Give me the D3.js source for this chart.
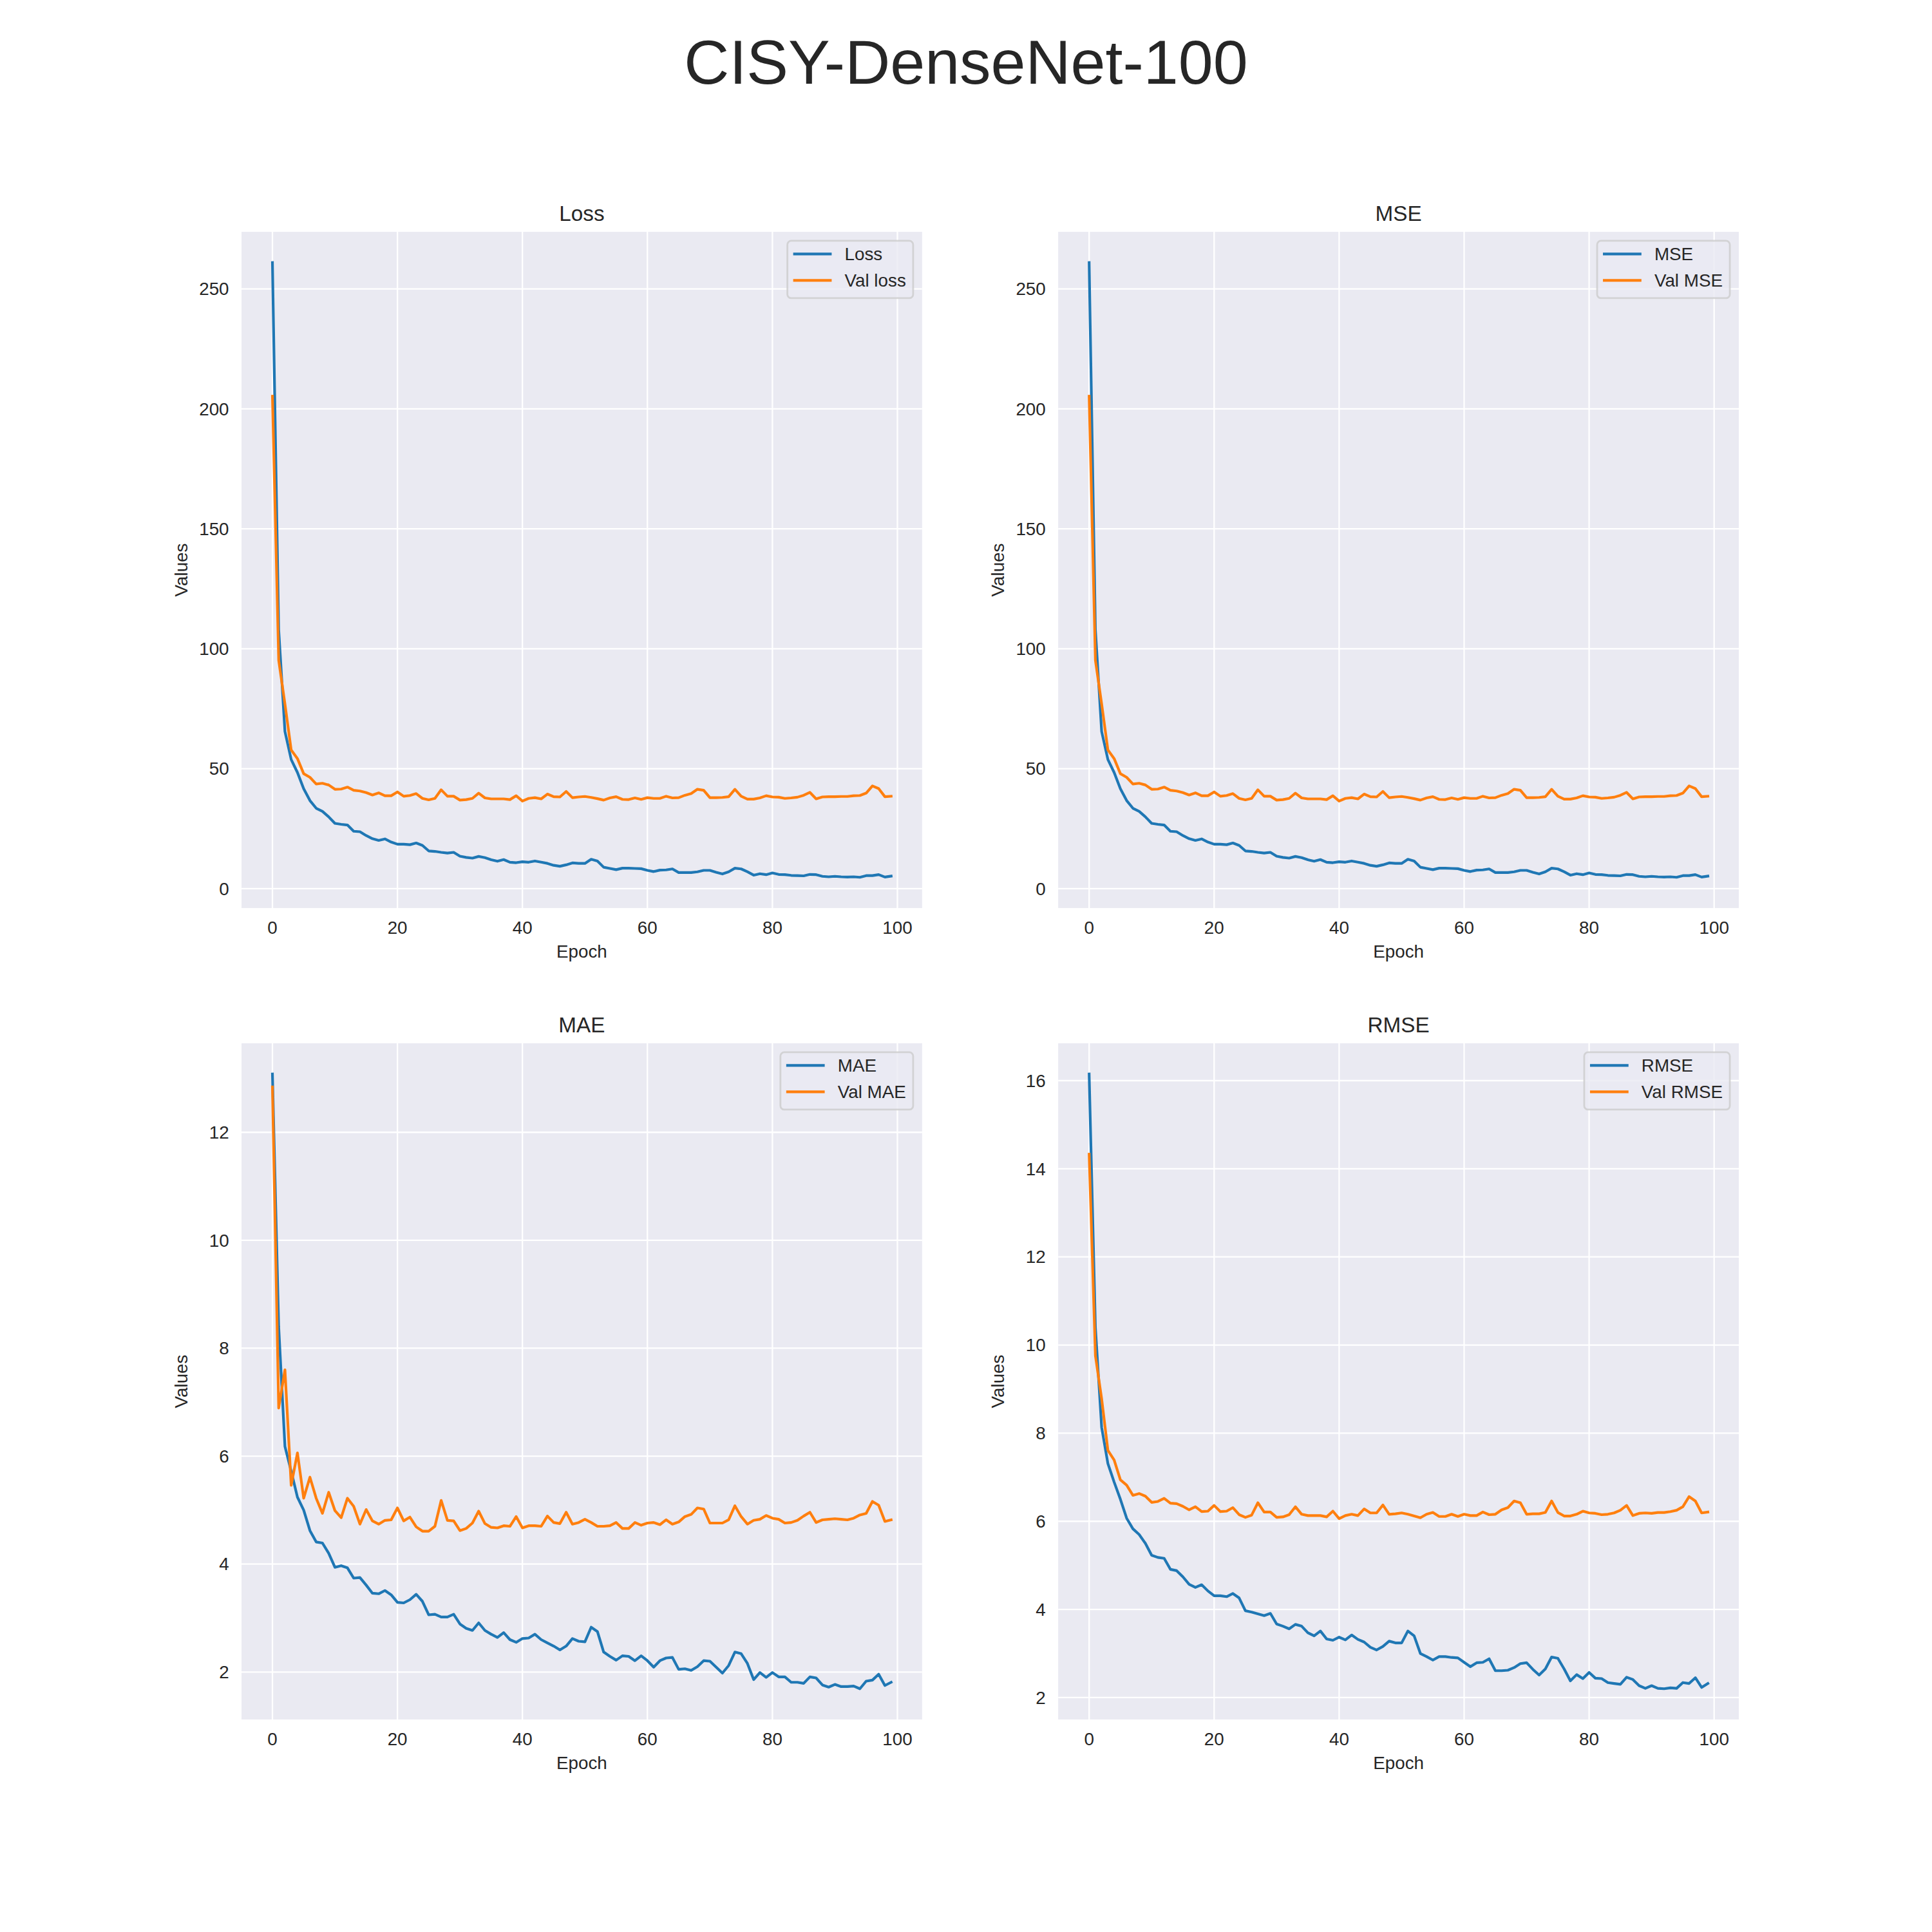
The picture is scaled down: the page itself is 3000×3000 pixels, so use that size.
<!DOCTYPE html>
<html>
<head>
<meta charset="utf-8">
<title>CISY-DenseNet-100</title>
<script src="https://cdn.jsdelivr.net/npm/d3@7"></script>
<style>
  body { margin: 0; background: #fff; }
  svg { display: block; }
</style>
</head>
<body>
<script>
(function () {

  // ---- data (epochs 0..99) ----
  var epochTicks = [0, 20, 40, 60, 80, 100];
  var lossTicks = [0, 50, 100, 150, 200, 250];
  var maeTicks = [2, 4, 6, 8, 10, 12];
  var rmseTicks = [2, 4, 6, 8, 10, 12, 14, 16];

  var loss = [
    261, 108, 65.5, 53.8, 48.4, 41.6, 36.7, 33.5, 32.2, 29.9,
    27.2, 26.8, 26.5, 23.9, 23.7, 22.1, 20.8, 20.1, 20.7, 19.4,
    18.5, 18.5, 18.3, 19.0, 18.0, 15.7, 15.5, 15.1, 14.8, 15.1,
    13.5, 13.0, 12.7, 13.4, 12.9, 12.0, 11.4, 12.1, 11.0, 10.8,
    11.2, 11.0, 11.5, 11.0, 10.5, 9.7, 9.3, 9.9, 10.7, 10.5,
    10.5, 12.2, 11.5, 8.9, 8.4, 7.9, 8.5, 8.5, 8.4, 8.3,
    7.6, 7.1, 7.7, 7.8, 8.2, 6.7, 6.7, 6.7, 7.0, 7.6,
    7.6, 6.8, 6.1, 7.0, 8.5, 8.2, 7.0, 5.6, 6.2, 5.8,
    6.5, 5.9, 5.8, 5.5, 5.4, 5.3, 5.9, 5.8, 5.1, 4.9,
    5.1, 4.9, 4.8, 4.9, 4.7, 5.4, 5.4, 5.8, 4.8, 5.2
  ];
  var valLoss = [
    205.3, 95.2, 77.0, 57.8, 54.2, 47.9, 46.4, 43.6, 43.9, 43.2,
    41.4, 41.5, 42.3, 41.0, 40.7, 40.0, 39.0, 39.9, 38.7, 38.7,
    40.3, 38.5, 38.8, 39.6, 37.6, 37.0, 37.6, 41.2, 38.5, 38.5,
    36.9, 37.1, 37.6, 39.8, 37.8, 37.4, 37.4, 37.4, 37.1, 38.7,
    36.5, 37.6, 37.9, 37.4, 39.4, 38.3, 38.2, 40.5, 37.9, 38.2,
    38.4, 38.0, 37.5, 36.9, 37.8, 38.3, 37.2, 37.1, 37.8, 37.2,
    37.9, 37.6, 37.6, 38.5, 37.8, 37.9, 38.9, 39.6, 41.4, 41.0,
    37.9, 37.9, 38.0, 38.3, 41.4, 38.5, 37.3, 37.3, 37.8, 38.7,
    38.2, 38.1, 37.6, 37.8, 38.1, 38.9, 40.1, 37.4, 38.2, 38.3,
    38.3, 38.4, 38.4, 38.7, 38.8, 39.8, 42.8, 41.7, 38.3, 38.5
  ];
  // the MSE panel shows the very same curves as the Loss panel
  var mse = loss;
  var valMse = valLoss;

  var mae = [
    13.08, 8.4, 6.18, 5.72, 5.24, 5.00, 4.62, 4.41, 4.39, 4.20,
    3.94, 3.97, 3.93, 3.74, 3.75, 3.61, 3.46, 3.45, 3.51, 3.43,
    3.29, 3.28, 3.34, 3.44, 3.31, 3.06, 3.07, 3.02, 3.02, 3.07,
    2.89, 2.81, 2.77, 2.91, 2.77, 2.70, 2.64, 2.73, 2.60, 2.55,
    2.62, 2.63, 2.70, 2.60, 2.54, 2.48, 2.41, 2.48, 2.62, 2.57,
    2.56, 2.83, 2.75, 2.37, 2.29, 2.22, 2.30, 2.29, 2.21, 2.30,
    2.21, 2.09, 2.21, 2.26, 2.27, 2.05, 2.06, 2.03, 2.10, 2.21,
    2.20, 2.09, 1.98, 2.12, 2.37, 2.34, 2.16, 1.86, 1.99, 1.90,
    1.99, 1.91, 1.91, 1.81, 1.81, 1.79, 1.91, 1.89, 1.76, 1.72,
    1.77, 1.73, 1.73, 1.74, 1.69, 1.83, 1.85, 1.96, 1.75, 1.81
  ];
  var valMae = [
    12.84, 6.89, 7.60, 5.46, 6.06, 5.22, 5.61, 5.22, 4.94, 5.33,
    4.99, 4.86, 5.22, 5.07, 4.74, 5.01, 4.80, 4.74, 4.81, 4.82,
    5.04, 4.80, 4.87, 4.69, 4.61, 4.61, 4.70, 5.18, 4.81, 4.80,
    4.62, 4.66, 4.76, 4.98, 4.75, 4.68, 4.67, 4.71, 4.70, 4.88,
    4.67, 4.71, 4.71, 4.70, 4.89, 4.77, 4.75, 4.96, 4.74, 4.77,
    4.83, 4.77, 4.70, 4.70, 4.71, 4.77, 4.66, 4.66, 4.77, 4.72,
    4.76, 4.77, 4.73, 4.82, 4.74, 4.78, 4.88, 4.92, 5.04, 5.02,
    4.76, 4.76, 4.76, 4.82, 5.08, 4.88, 4.74, 4.81, 4.83, 4.90,
    4.85, 4.83, 4.76, 4.77, 4.81, 4.89, 4.96, 4.77, 4.82, 4.83,
    4.84, 4.83, 4.82, 4.85, 4.91, 4.94, 5.16, 5.09, 4.79, 4.82
  ];

  var rmse = [
    16.15, 10.4, 8.13, 7.31, 6.89, 6.50, 6.07, 5.83, 5.70, 5.50,
    5.23, 5.18, 5.16, 4.91, 4.88, 4.74, 4.57, 4.50, 4.56, 4.42,
    4.31, 4.31, 4.29, 4.36, 4.26, 3.97, 3.94, 3.90, 3.86, 3.91,
    3.67, 3.62, 3.56, 3.66, 3.62, 3.47, 3.40, 3.51, 3.33, 3.30,
    3.37, 3.31, 3.42, 3.32, 3.26, 3.14, 3.08, 3.16, 3.28, 3.24,
    3.24, 3.51, 3.40, 3.00, 2.93, 2.85, 2.93, 2.93, 2.91, 2.90,
    2.80, 2.70, 2.79, 2.80, 2.88, 2.61, 2.61, 2.62, 2.68, 2.77,
    2.79, 2.64, 2.51, 2.65, 2.92, 2.89, 2.65, 2.38, 2.52, 2.43,
    2.57, 2.44, 2.43, 2.34, 2.32, 2.30, 2.46, 2.41, 2.27, 2.21,
    2.27, 2.21, 2.20, 2.22, 2.21, 2.34, 2.32, 2.45, 2.23, 2.32
  ];
  var valRmse = [
    14.33, 9.76, 8.78, 7.61, 7.39, 6.94, 6.82, 6.59, 6.63, 6.57,
    6.43, 6.45, 6.52, 6.41, 6.40, 6.34, 6.26, 6.33, 6.22, 6.23,
    6.36, 6.22, 6.23, 6.31, 6.15, 6.09, 6.14, 6.42, 6.21, 6.21,
    6.09, 6.10, 6.15, 6.33, 6.16, 6.13, 6.13, 6.13, 6.10, 6.23,
    6.06, 6.13, 6.16, 6.13, 6.28, 6.19, 6.19, 6.37, 6.16, 6.17,
    6.19, 6.16, 6.12, 6.08, 6.16, 6.20, 6.11, 6.11, 6.16, 6.11,
    6.16, 6.13, 6.13, 6.21, 6.15, 6.16, 6.26, 6.31, 6.46, 6.42,
    6.16, 6.17, 6.17, 6.20, 6.46, 6.20, 6.12, 6.12, 6.16, 6.23,
    6.19, 6.18, 6.15, 6.16, 6.19, 6.25, 6.36, 6.13, 6.18, 6.19,
    6.18, 6.20, 6.20, 6.22, 6.25, 6.33, 6.56, 6.46, 6.19, 6.21
  ];

  var panels = [
    { title: "Loss", train: loss, val: valLoss, names: ["Loss", "Val loss"], ticks: lossTicks },
    { title: "MSE", train: mse, val: valMse, names: ["MSE", "Val MSE"], ticks: lossTicks },
    { title: "MAE", train: mae, val: valMae, names: ["MAE", "Val MAE"], ticks: maeTicks },
    { title: "RMSE", train: rmse, val: valRmse, names: ["RMSE", "Val RMSE"], ticks: rmseTicks }
  ];

  // ---- look ----
  var W = 3000, H = 3000;
  var fig = { left: 375, right: 2700, top: 360, bottom: 2670, wspace: 0.2, hspace: 0.2 };
  var aw = (fig.right - fig.left) / (2 + fig.wspace);
  var ah = (fig.bottom - fig.top) / (2 + fig.hspace);
  var fontFamily = "'Liberation Sans', Arial, 'DejaVu Sans', sans-serif";
  var ink = "#262626";
  var colors = ["#1f77b4", "#ff7f0e"];
  var fs = 27.8;      // 10pt at 200 dpi
  var lw = 4.17;      // 1.5pt

  var svg = d3.select("body").append("svg")
      .attr("width", W)
      .attr("height", H)
      .attr("font-family", fontFamily);

  svg.append("rect").attr("width", W).attr("height", H).attr("fill", "#fff");

  svg.append("text")
      .attr("x", W / 2)
      .attr("y", 130)
      .attr("text-anchor", "middle")
      .attr("font-size", 97)
      .attr("fill", ink)
      .text("CISY-DenseNet-100");

  function padded(lo, hi) {
    var m = (hi - lo) * 0.05;
    return [lo - m, hi + m];
  }

  function drawPanel(p, i) {
    var col = i % 2, row = Math.floor(i / 2);
    var x0 = fig.left + col * aw * (1 + fig.wspace);
    var y0 = fig.top + row * ah * (1 + fig.hspace);
    var x1 = x0 + aw, y1 = y0 + ah;

    var epochs = d3.range(p.train.length);
    var both = p.train.concat(p.val);

    var x = d3.scaleLinear()
        .domain(padded(d3.min(epochs), d3.max(epochs)))
        .range([x0, x1]);
    var y = d3.scaleLinear()
        .domain(padded(d3.min(both), d3.max(both)))
        .range([y1, y0]);

    var g = svg.append("g");

    g.append("rect")
        .attr("x", x0).attr("y", y0)
        .attr("width", aw).attr("height", ah)
        .attr("fill", "#EAEAF2");

    var clipId = "clip" + i;
    g.append("clipPath").attr("id", clipId)
      .append("rect")
        .attr("x", x0).attr("y", y0)
        .attr("width", aw).attr("height", ah);

    // grid
    g.selectAll("line.gx")
        .data(epochTicks)
      .enter()
        .append("line")
        .attr("class", "gx")
        .attr("x1", function(d) { return x(d); })
        .attr("x2", function(d) { return x(d); })
        .attr("y1", y0).attr("y2", y1)
        .attr("stroke", "#fff")
        .attr("stroke-width", 2.3);

    g.selectAll("line.gy")
        .data(p.ticks)
      .enter()
        .append("line")
        .attr("class", "gy")
        .attr("x1", x0).attr("x2", x1)
        .attr("y1", function(d) { return y(d); })
        .attr("y2", function(d) { return y(d); })
        .attr("stroke", "#fff")
        .attr("stroke-width", 2.3);

    // tick labels
    g.selectAll("text.tx")
        .data(epochTicks)
      .enter()
        .append("text")
        .attr("class", "tx")
        .attr("x", function(d) { return x(d); })
        .attr("y", y1 + 40)
        .attr("text-anchor", "middle")
        .attr("font-size", fs)
        .attr("fill", ink)
        .text(function(d) { return d; });

    g.selectAll("text.ty")
        .data(p.ticks)
      .enter()
        .append("text")
        .attr("class", "ty")
        .attr("x", x0 - 19.4)
        .attr("y", function(d) { return y(d); })
        .attr("dy", "0.35em")
        .attr("text-anchor", "end")
        .attr("font-size", fs)
        .attr("fill", ink)
        .text(function(d) { return d; });

    // axis labels and title
    g.append("text")
        .attr("x", (x0 + x1) / 2)
        .attr("y", y1 + 77)
        .attr("text-anchor", "middle")
        .attr("font-size", fs)
        .attr("fill", ink)
        .text("Epoch");

    g.append("text")
        .attr("transform", "translate(" + (x0 - 84) + "," + ((y0 + y1) / 2) + ") rotate(-90)")
        .attr("text-anchor", "middle")
        .attr("font-size", fs)
        .attr("fill", ink)
        .text("Values");

    g.append("text")
        .attr("x", (x0 + x1) / 2)
        .attr("y", y0 - 17)
        .attr("text-anchor", "middle")
        .attr("font-size", 33.3)
        .attr("fill", ink)
        .text(p.title);

    // curves
    var line = d3.line()
        .x(function(d, k) { return x(k); })
        .y(function(d) { return y(d); });

    var lines = g.append("g").attr("clip-path", "url(#" + clipId + ")");
    [p.train, p.val].forEach(function(series, k) {
      lines.append("path")
          .datum(series)
          .attr("d", line)
          .attr("fill", "none")
          .attr("stroke", colors[k])
          .attr("stroke-width", lw)
          .attr("stroke-linejoin", "round")
          .attr("stroke-linecap", "square");
    });

    // legend, upper right
    var leg = g.append("g");
    var frame = leg.append("rect");
    var labels = leg.selectAll("text")
        .data(p.names)
      .enter()
        .append("text")
        .attr("font-size", fs)
        .attr("fill", ink)
        .attr("dy", "0.35em")
        .text(function(d) { return d; });

    var tw = 0;
    labels.each(function() { tw = Math.max(tw, this.getComputedTextLength()); });

    var pad = 11.1, handle = 55.6, gap = 22.2;
    var lwid = pad + handle + gap + tw + pad;
    var lx = x1 - 13.9 - lwid, ly = y0 + 13.9;
    var rows = [ly + 20.5, ly + 61.5];

    frame
        .attr("x", lx).attr("y", ly)
        .attr("width", lwid).attr("height", 89)
        .attr("rx", 6).attr("ry", 6)
        .attr("fill", "#EAEAF2").attr("fill-opacity", 0.8)
        .attr("stroke", "#cccccc").attr("stroke-opacity", 0.8)
        .attr("stroke-width", 2.8);

    labels
        .attr("x", lx + pad + handle + gap)
        .attr("y", function(d, k) { return rows[k]; });

    leg.selectAll("line")
        .data(p.names)
      .enter()
        .append("line")
        .attr("x1", lx + pad)
        .attr("x2", lx + pad + handle)
        .attr("y1", function(d, k) { return rows[k]; })
        .attr("y2", function(d, k) { return rows[k]; })
        .attr("stroke", function(d, k) { return colors[k]; })
        .attr("stroke-width", lw)
        .attr("stroke-linecap", "square");
  }

  panels.forEach(drawPanel);

})();
</script>
</body>
</html>
